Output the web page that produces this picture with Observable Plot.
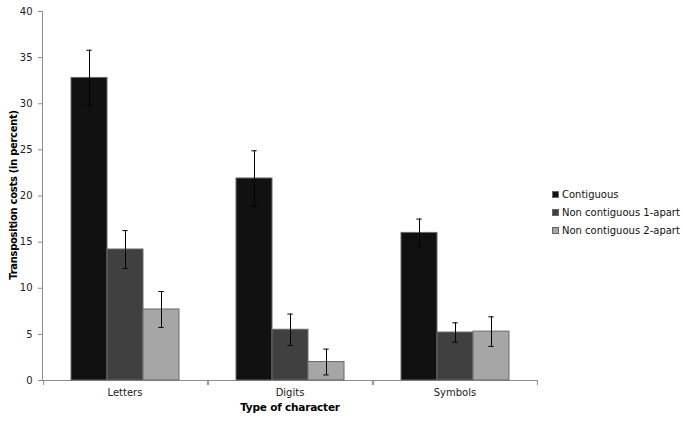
<!DOCTYPE html>
<html>
<head>
<meta charset="utf-8">
<script src="https://cdn.jsdelivr.net/npm/d3@7"></script>
<script src="https://cdn.jsdelivr.net/npm/@observablehq/plot@0.6"></script>
<style>
  body { margin: 0; background: #fff; font-family: "DejaVu Sans", sans-serif; }
  #wrap { position: relative; width: 683px; height: 422px; }
  #wrap svg { font-family: "DejaVu Sans", sans-serif; font-size: 10px; }
  #wrap svg [aria-label^="y-axis"] path,
  #wrap svg [aria-label^="y-axis"] line,
  #wrap svg [aria-label="frame"],
  #wrap svg [aria-label="frame"] *,
  #wrap svg [aria-label="y-axis"] .domain { stroke: #8c8c8c; }
  .ylab { position: absolute; left: 13px; top: 195px; transform: translate(-50%, -50%) rotate(-90deg); transform-origin: center; white-space: nowrap; font-weight: bold; font-size: 10px; letter-spacing: -0.3px; color: #000; }
  .xlab { position: absolute; left: 290px; top: 401px; transform: translateX(-50%); white-space: nowrap; font-weight: bold; font-size: 10.5px; letter-spacing: -0.2px; color: #000; }
  .legend { position: absolute; left: 552px; top: 187px; font-size: 10px; color: #111; }
  .legend div { height: 18px; line-height: 16px; white-space: nowrap; }
  .legend span.sw { display: inline-block; width: 7px; height: 7px; margin-right: 3px; border: 1px solid #666; box-sizing: border-box; vertical-align: 0px; }
</style>
</head>
<body>
<div id="wrap"></div>
<script>
const categories = ["Letters", "Digits", "Symbols"];
const series = ["Contiguous", "Non contiguous 1-apart", "Non contiguous 2-apart"];
const contiguous = [32.8, 21.9, 16.0];
const contiguousErr = [3.0, 3.0, 1.5];
const nonContig1 = [14.2, 5.5, 5.2];
const nonContig1Err = [2.05, 1.7, 1.05];
const nonContig2 = [7.7, 2.0, 5.3];
const nonContig2Err = [1.95, 1.4, 1.6];
const yTicks = [0, 5, 10, 15, 20, 25, 30, 35, 40];
const colors = ["#111111", "#404040", "#a6a6a6"];

const valuesBySeries = [contiguous, nonContig1, nonContig2];
const errBySeries = [contiguousErr, nonContig1Err, nonContig2Err];
const data = [];
categories.forEach((c, i) => series.forEach((s, j) => {
  data.push({category: c, series: s, value: valuesBySeries[j][i], err: errBySeries[j][i]});
}));

const W = 683, H = 422, mL = 42, mR = 146, mT = 11, mB = 42;
const facetW = (W - mL - mR) / categories.length;
const step = facetW / 4.5;
const edge = step * 1.25;

const chart = Plot.plot({
  width: W, height: H,
  marginLeft: mL, marginRight: mR, marginTop: mT, marginBottom: mB,
  style: {color: "#222", fontFamily: "DejaVu Sans, sans-serif", fontSize: "10px", background: "white"},
  facet: {data, x: "category"},
  fx: {domain: categories, padding: 0, label: null, tickSize: 0, tickPadding: 8},
  x: {domain: series, paddingInner: 0, paddingOuter: 0.75, axis: null},
  y: {domain: [0, 40], ticks: yTicks, tickSize: 4, tickPadding: 6, label: null, line: true},
  color: {domain: series, range: colors},
  marks: [
    Plot.ruleY([0], {stroke: "#8c8c8c"}),
    Plot.ruleX([series[0]], {x: d => d, y1: 0, y2: 0, insetBottom: -5, dx: -edge, stroke: "#8c8c8c"}),
    Plot.ruleX([series[2]], {x: d => d, y1: 0, y2: 0, insetBottom: -5, dx: edge, stroke: "#8c8c8c"}),
    Plot.barY(data, {x: "series", y: "value", fill: "series", stroke: "#6a6a6a", strokeWidth: 1}),
    Plot.ruleX(data, {x: "series", y1: d => d.value - d.err, y2: d => d.value + d.err, stroke: "#000", strokeWidth: 1}),
    Plot.tickY(data, {x: "series", y: d => d.value + d.err, stroke: "#000", inset: (step - 6) / 2}),
    Plot.tickY(data, {x: "series", y: d => d.value - d.err, stroke: "#000", inset: (step - 6) / 2})
  ]
});

const wrap = document.getElementById("wrap");
wrap.appendChild(chart);

const yl = document.createElement("div");
yl.className = "ylab";
yl.textContent = "Transposition costs (in percent)";
wrap.appendChild(yl);

const xl = document.createElement("div");
xl.className = "xlab";
xl.textContent = "Type of character";
wrap.appendChild(xl);

const lg = document.createElement("div");
lg.className = "legend";
series.forEach((s, j) => {
  const row = document.createElement("div");
  const sw = document.createElement("span");
  sw.className = "sw";
  sw.style.background = colors[j];
  row.appendChild(sw);
  row.appendChild(document.createTextNode(s));
  lg.appendChild(row);
});
wrap.appendChild(lg);
</script>
</body>
</html>
